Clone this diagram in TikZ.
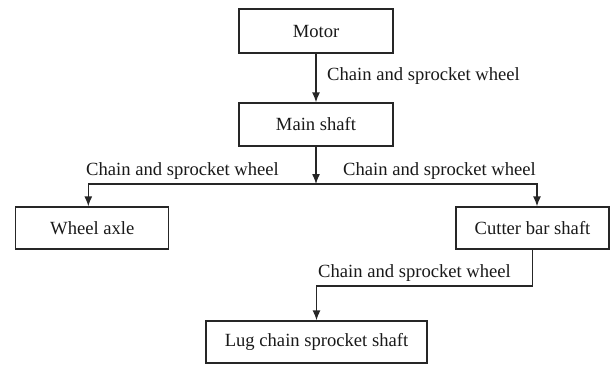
\documentclass[tikz,border=0pt]{standalone}
\usepackage{fontspec}
\setmainfont{Liberation Serif}
\usetikzlibrary{arrows.meta}
\begin{document}
\begin{tikzpicture}[x=1pt,y=-1pt,
  font=\fontsize{18.6}{22}\selectfont,
  boxnode/.style={draw=black!85, line width=1.3pt, minimum height=42pt, inner sep=0pt, text=black!90},
  lbl/.style={inner sep=0pt, anchor=base west, text=black!90},
  conn/.style={draw=black!85, line width=1.3pt},
  arr/.style={conn, -{Latex[length=10pt,width=8pt]}}]
\useasboundingbox (0,0) rectangle (613,365);
\node[boxnode, minimum width=154pt, minimum height=44pt] (motor) at (316,31) {Motor};
\node[boxnode, minimum width=154pt, minimum height=43pt] (main) at (316,124.5) {Main shaft};
\node[boxnode, minimum width=153pt] (wheel) at (92.3,228) {Wheel axle};
\node[boxnode, minimum width=153pt] (cutter) at (532.5,228) {Cutter bar shaft};
\node[boxnode, minimum width=221pt] (lug) at (316.5,342) {Lug chain sprocket shaft};
\coordinate (j) at (316,184);
\coordinate (k) at (316.5,286);
\draw[arr] (motor.south) -- (main.north);
\draw[arr] (main.south) -- (j);
\draw[arr] (j) -| ([xshift=-4pt]wheel.north);
\draw[arr] (j) -| ([xshift=4.5pt]cutter.north);
\draw[arr] (cutter.south) |- (k) -- (lug.north);
\node[lbl] (l1) at (327,80) {Chain and sprocket wheel};
\node[lbl] (l2) at (86,175) {Chain and sprocket wheel};
\node[lbl] (l3) at (343,175) {Chain and sprocket wheel};
\node[lbl] (l4) at (318,277) {Chain and sprocket wheel};
\end{tikzpicture}
\end{document}
